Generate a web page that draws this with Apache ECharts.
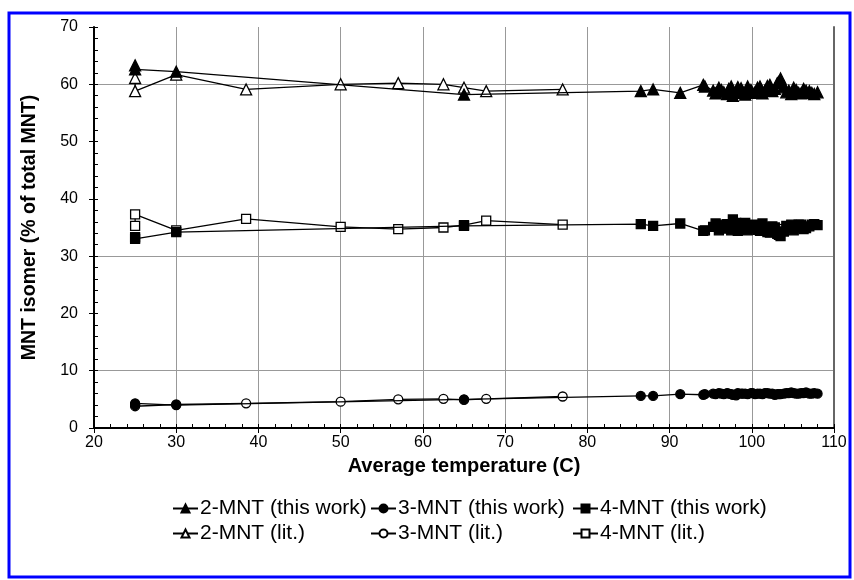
<!DOCTYPE html>
<html><head><meta charset="utf-8">
<script src="https://cdn.jsdelivr.net/npm/echarts@6/dist/echarts.min.js"></script>
<style>html,body{margin:0;padding:0;background:#fff}#c{width:854px;height:580px}</style>
</head><body><div id="c"></div>
<script>
// ---- data ----
const xTicks = [20, 30, 40, 50, 60, 70, 80, 90, 100, 110];
const yTicks = [0, 10, 20, 30, 40, 50, 60, 70];
const yGridShown = [10, 30, 60];

// this work: average temperature (C) and isomer % for each run
const workTemp = [25, 25, 30, 65, 86.5, 88, 91.3, 94.1,
  94.3, 95.3, 96.0, 96.6, 97.2, 97.7, 98.3, 98.9, 99.5, 100.1, 100.7, 101.3, 101.9, 102.5, 103.1, 103.5, 104.2, 104.8, 105.4, 106.0, 106.6, 107.3, 108.0,
  95.6, 96.3, 97.0, 97.5, 98.1, 98.7, 99.2, 99.9, 100.4, 101.0, 101.6, 102.2, 102.8, 103.3, 103.9, 104.5, 105.1, 105.7, 106.3, 107.0, 107.6];
const work2 = [63.3, 62.6, 62.2, 58.2, 58.8, 59.1, 58.5, 59.9,
  59.6, 58.9, 59.4, 58.6, 59.2, 58.0, 59.5, 58.7, 59.6, 58.5, 59.4, 58.4, 59.7, 58.8, 60.2, 61.0, 58.6, 58.3, 59.0, 58.4, 58.9, 58.5, 58.6,
  58.4, 59.0, 58.3, 59.6, 58.5, 59.3, 58.2, 59.0, 58.6, 59.6, 58.9, 59.9, 59.2, 60.4, 59.7, 58.9, 59.4, 58.5, 59.2, 58.8, 58.3];
const work3 = [4.3, 4.1, 4.0, 5.0, 5.6, 5.6, 5.9, 5.8,
  5.9, 6.0, 6.1, 5.9, 6.0, 5.8, 6.1, 6.0, 5.9, 6.1, 6.0, 5.9, 6.1, 6.0, 5.9, 5.9, 6.1, 6.2, 6.0, 6.1, 6.2, 6.0, 6.0,
  5.9, 6.0, 6.1, 5.9, 5.7, 6.0, 6.0, 6.1, 5.9, 6.0, 6.1, 6.0, 5.8, 5.9, 6.0, 6.1, 6.1, 6.0, 6.1, 6.0, 6.1];
const work4 = [33.0, 33.3, 34.2, 35.3, 35.6, 35.3, 35.7, 34.4,
  34.5, 35.1, 34.5, 35.5, 34.8, 36.4, 34.4, 35.3, 34.5, 35.4, 34.6, 35.7, 34.2, 35.2, 33.9, 33.5, 35.3, 35.5, 35.0, 35.5, 34.9, 35.5, 35.4,
  35.7, 35.0, 35.6, 34.5, 35.8, 34.7, 35.8, 34.9, 35.5, 34.4, 35.0, 34.1, 35.0, 33.7, 34.3, 35.0, 34.5, 35.5, 34.7, 35.2, 35.6];

// literature values
const litTemp = [25, 25, 30, 38.5, 50, 57, 62.5, 65, 67.7, 77];
const lit2 = [61.1, 58.8, 61.7, 59.1, 60.0, 60.2, 60.0, 59.4, 58.8, 59.1];
const lit3 = [3.8, 4.0, 4.1, 4.3, 4.6, 5.0, 5.1, 4.9, 5.1, 5.5];
const lit4 = [35.3, 37.3, 34.5, 36.5, 35.1, 34.7, 35.0, 35.4, 36.2, 35.5];

const names = ['2-MNT (this work)', '3-MNT (this work)', '4-MNT (this work)', '2-MNT (lit.)', '3-MNT (lit.)', '4-MNT (lit.)'];

// ---- chart ----
const FONT = '"Liberation Sans", Arial, sans-serif';
function mk(name, temps, vals, symbol, filled, size) {
  return {
    name: name, type: 'line', symbol: symbol, symbolSize: size, showSymbol: true,
    data: temps.map((t, i) => [t, vals[i]]),
    lineStyle: { color: '#000', width: 1.3 },
    itemStyle: { color: filled ? '#000' : '#fff', borderColor: '#000', borderWidth: 1.3 },
    emphasis: { disabled: true }, animation: false, z: filled ? 3 : 2
  };
}
const series = [
  mk(names[3], litTemp, lit2, 'triangle', false, 11),
  mk(names[4], litTemp, lit3, 'circle', false, 9),
  mk(names[5], litTemp, lit4, 'rect', false, 9),
  mk(names[0], workTemp, work2, 'triangle', true, 11),
  mk(names[1], workTemp, work3, 'circle', true, 9),
  mk(names[2], workTemp, work4, 'rect', true, 9)
];

const gridColors = yTicks.map(v => yGridShown.indexOf(v) >= 0 ? '#999' : 'rgba(0,0,0,0)');

function legendCol(left, items) {
  return {
    orient: 'vertical', left: left, top: 498, padding: 0, itemGap: 4,
    itemWidth: 25, itemHeight: 10, data: items,
    textStyle: { fontSize: 21, color: '#000', fontFamily: FONT, padding: [0, 0, 0, -3] }
  };
}

const option = {
  animation: false,
  backgroundColor: '#fff',
  grid: { left: 94, right: 20, top: 27, bottom: 152, containLabel: false },
  xAxis: [
    {
      type: 'value', min: xTicks[0], max: xTicks[xTicks.length - 1], interval: 10,
      axisLine: { lineStyle: { color: '#000', width: 2 } },
      axisTick: { show: true, length: 5, lineStyle: { color: '#000' } },
      axisLabel: { color: '#000', fontSize: 16, fontFamily: FONT, margin: 7 },
      splitLine: { show: true, lineStyle: { color: '#999', width: 1 } },
      name: 'Average temperature (C)', nameLocation: 'middle', nameGap: 28,
      nameTextStyle: { fontWeight: 'bold', fontSize: 20, color: '#000', fontFamily: FONT }
    },
    {
      type: 'value', position: 'bottom', min: 20, max: 110, interval: 2,
      axisLine: { show: false }, axisTick: { show: true, inside: true, length: 4, lineStyle: { color: '#000' } },
      axisLabel: { show: false }, splitLine: { show: false }
    }
  ],
  yAxis: [
    {
      type: 'value', min: yTicks[0], max: yTicks[yTicks.length - 1], interval: 10,
      axisLine: { show: true, lineStyle: { color: '#000', width: 2 } },
      axisTick: { show: true, length: 5, lineStyle: { color: '#000' } },
      axisLabel: { color: '#000', fontSize: 16, fontFamily: FONT, margin: 16 },
      splitLine: { show: true, lineStyle: { color: gridColors, width: 1 } },
      name: 'MNT isomer (% of total MNT)', nameLocation: 'middle', nameGap: 54,
      nameTextStyle: { fontWeight: 'bold', fontSize: 19.5, color: '#000', fontFamily: FONT }
    },
    {
      type: 'value', position: 'left', min: 0, max: 70, interval: 2,
      axisLine: { show: false }, axisTick: { show: true, inside: true, length: 4, lineStyle: { color: '#000' } },
      axisLabel: { show: false }, splitLine: { show: false }
    },
    {
      type: 'value', position: 'right', min: 0, max: 70, interval: 10,
      axisLine: { show: true, lineStyle: { color: '#666', width: 2 } },
      axisTick: { show: false }, axisLabel: { show: false }, splitLine: { show: false }
    }
  ],
  legend: [
    legendCol(172, [names[0], names[3]]),
    legendCol(370, [names[1], names[4]]),
    legendCol(572, [names[2], names[5]])
  ],
  graphic: [{
    type: 'rect', shape: { x: 9, y: 13, width: 841, height: 564 },
    style: { fill: 'none', stroke: '#0000ff', lineWidth: 3 }, silent: true, z: 100
  }],
  series: series
};
const chart = echarts.init(document.getElementById('c'), null, { renderer: 'canvas' });
chart.setOption(option);
</script>
</body></html>
